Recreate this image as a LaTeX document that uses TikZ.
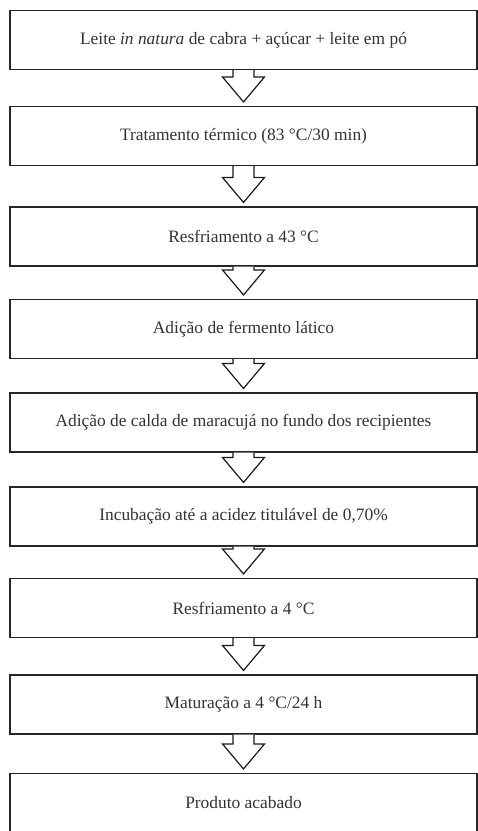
\documentclass[tikz,border=0pt]{standalone}
\usepackage{fontspec}
\setmainfont{Liberation Serif}
\usepackage{tikz}

\tikzset{
	etapa/.style={draw=black!85, line width=1.1pt, minimum width=467pt, minimum height=59pt, inner sep=0pt, text=black!80, font=\fontsize{17.4}{20}\selectfont},
	seta/.style={draw=black!90, line width=1.2pt, fill=white, line join=miter}
}

\begin{document}
\begin{tikzpicture}[x=1pt,y=-1pt]
		\useasboundingbox (0,0) rectangle (478,831);
		\clip (0,0) rectangle (478,831);
		\foreach \n/\y/\txt in {1/40/{Leite \textit{in natura} de cabra + açúcar + leite em pó}, 2/136/{Tratamento térmico (83 °C/30 min)}, 3/236.5/{Resfriamento a 43 °C}, 4/329/{Adição de fermento lático}, 5/422.5/{Adição de calda de maracujá no fundo dos recipientes}, 6/516.5/{Incubação até a acidez titulável de 0,70\%}, 7/608/{Resfriamento a 4 °C}, 8/704.5/{Maturação a 4 °C/24 h}, 9/803/{Produto acabado}}
			\node[etapa] (e\n) at (243.5,\y) {\txt};
		
		\foreach \i/\j in {1/2, 2/3, 3/4, 4/5, 5/6, 6/7, 7/8, 8/9}
			\draw[seta] ([xshift=-10.5pt]e\i.south) -- ([xshift=-10.5pt,yshift=29pt]e\j.north) -- ++(-10.5,0) -- ([yshift=4pt]e\j.north) -- ++(21,-25) -- ++(-10.5,0) -- ([xshift=10.5pt]e\i.south);
	\end{tikzpicture}
\end{document}
